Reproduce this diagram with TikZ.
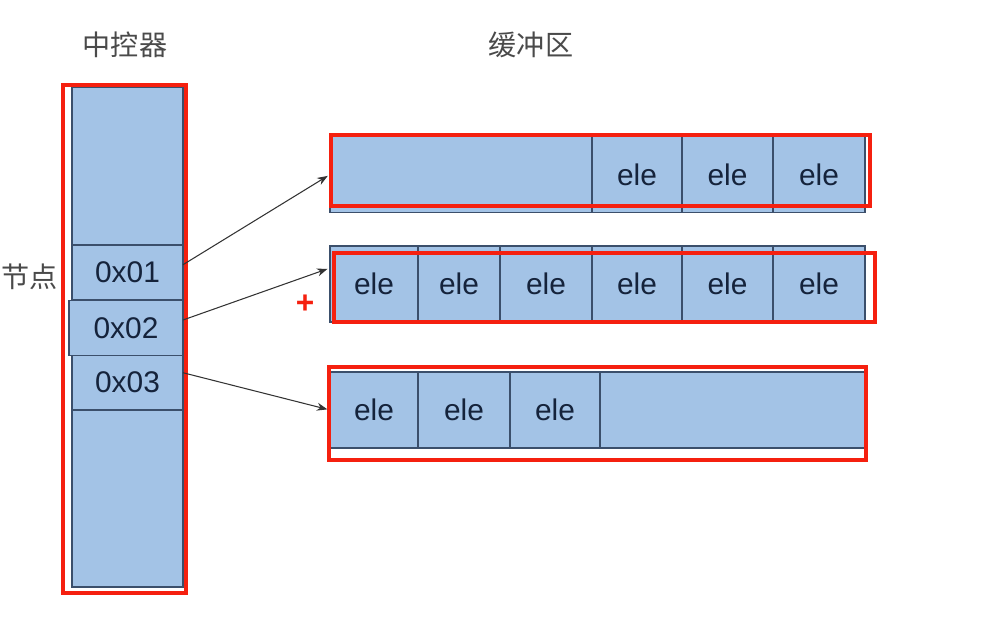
\documentclass[tikz,border=0pt]{standalone}
\usepackage{fontspec}
\setmainfont{Liberation Sans}
\newfontfamily\cjk{Noto Sans CJK SC}
\usetikzlibrary{arrows.meta,positioning}
\definecolor{cellfill}{HTML}{A3C3E6}
\definecolor{celledge}{HTML}{3B4F6B}
\definecolor{hilite}{HTML}{F5200F}
\definecolor{ink}{HTML}{15233B}
\definecolor{caption}{HTML}{4A4A4A}

\begin{document}
\begin{tikzpicture}[x=0.02cm,y=-0.02cm,
  cell/.style={draw=celledge,fill=cellfill,line width=0.8pt,inner sep=0pt,outer sep=0pt,minimum height=1.52cm,font=\fontsize{17}{20}\selectfont,text=ink},
  slot/.style={cell,minimum width=2.22cm,minimum height=1.1cm},
  redbox/.style={draw=hilite,line width=2.8pt},
  ptr/.style={-{Stealth[length=6pt,width=4.5pt]},line width=0.6pt,draw=black!80,shorten >=1.5pt},
  title/.style={font=\cjk\fontsize{16}{19}\selectfont,text=caption},
]
  \useasboundingbox (0,0) rectangle (1001,630);

  % titles
  \node[title] (ctl) at (125,45) {中控器};
  \node[title] (buf) at (531,45) {缓冲区};
  \node[title] (nd) at (30,277) {节点};

  % control column
  \node[slot,minimum height=3.16cm] (top) at (127.5,166) {};
  \node[slot,minimum height=3.54cm] (bot) at (127.5,498.5) {};
  \node[slot] (c1) at (127.5,272.5) {0x01};
  \node[slot] (c3) at (127.5,382.5) {0x03};
  \node[slot,minimum width=2.28cm] (c2) at (126,328) {0x02};
  \draw[redbox] (63,85) rectangle (186,593);

  % buffer rows
  \foreach \a/\b/\t [count=\i] in {330/592/{},592/682/ele,682/773/ele,773/865/ele}
    \node[cell,minimum width={(\b-\a)*0.02cm}] (a\i) at ({(\a+\b)/2},174.5) {\t};
  \foreach \a/\b/\t [count=\i] in {330/418/ele,418/500/ele,500/592/ele,592/682/ele,682/773/ele,773/865/ele}
    \node[cell,minimum width={(\b-\a)*0.02cm}] (b\i) at ({(\a+\b)/2},284) {\t};
  \foreach \a/\b/\t [count=\i] in {330/418/ele,418/510/ele,510/600/ele,600/865/{}}
    \node[cell,minimum width={(\b-\a)*0.02cm}] (d\i) at ({(\a+\b)/2},410) {\t};

  \draw[redbox] (331,135) rectangle (870,206);
  \draw[redbox] (334,253) rectangle (875,322);
  \draw[redbox] (329,367) rectangle (866,460);
  \node[text=hilite,font=\fontsize{18}{20}\selectfont\bfseries] (plus) at (305,304) {+};

  % pointers
  \draw[ptr] (c1.8) -- (a1.west);
  \draw[ptr] (c2.8) -- (b1.160);
  \draw[ptr] (c3.10) -- (d1.west);
\end{tikzpicture}
\end{document}
